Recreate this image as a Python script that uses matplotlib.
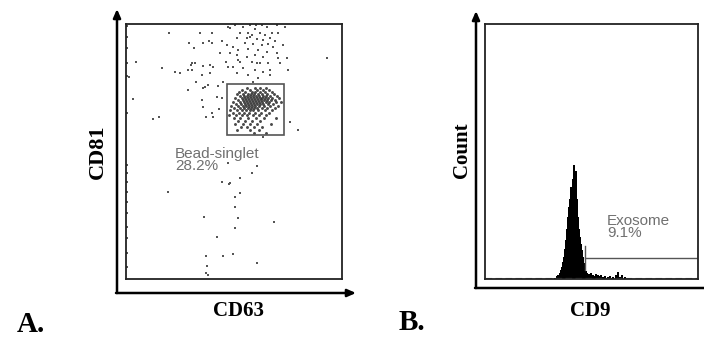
import matplotlib
matplotlib.use("Agg")
import matplotlib.pyplot as plt
from matplotlib.patches import Rectangle

# ---------------- data ----------------
# Panel A: CD63 (x) vs CD81 (y) events, channel units (x 0-216, y 0-255)
edge_y = [253, 242, 231, 216, 203, 166, 114, 106, 97, 87, 77, 66, 52, 41, 26, 12]
edge_x = [1] * len(edge_y)

scatter_x = [43, 74, 86, 102, 63, 77, 83, 86, 96, 101, 68, 94, 104, 10, 36, 49, 54, 62, 66, 65,
             69, 77, 84, 87, 100, 102, 66, 76, 84, 70, 82, 79, 77, 92, 97, 62, 91, 96, 76, 93,
             77, 86, 80, 87, 7, 3, 27, 33,
             109, 117, 124, 129, 136, 141, 151, 159, 114, 122, 126, 134, 139, 146, 152, 111, 121, 131, 137, 144,
             149, 119, 127, 136, 142, 147, 157, 107, 112, 122, 132, 141, 111, 121, 129, 137, 152, 161,
             201, 114, 126, 134, 142, 162, 107, 117, 129, 137, 111, 122, 132, 144, 127,
             124, 112, 131, 144, 151, 154, 104, 130,
             164, 172, 137,
             42, 78, 91, 80, 97, 107, 81, 80, 82, 96, 103, 109, 109, 109, 131, 126, 114, 104, 114,
             112, 148, 131, 102]
scatter_y = [246, 246, 246, 252, 236, 236, 238, 236, 238, 234, 231, 226, 226, 217, 211, 207, 206, 209, 216, 214,
             216, 213, 214, 212, 217, 212, 209, 204, 206, 197, 194, 192, 191, 193, 197, 189, 182, 181, 179, 170,
             172, 166, 162, 162, 180, 202, 160, 162,
             254, 252, 254, 250, 254, 252, 254, 252, 246, 246, 244, 246, 244, 246, 246, 241, 241, 240, 239, 241,
             238, 236, 235, 234, 235, 232, 234, 232, 229, 230, 229, 227, 224, 222, 224, 222, 221, 221,
             221, 217, 217, 216, 216, 209, 212, 211, 209, 207, 206, 204, 201, 204, 197,
             242, 219, 216, 209, 226, 216, 251, 254,
             157, 149, 142,
             87, 62, 42, 23, 23, 25, 13, 6, 4, 97, 95, 82, 72, 51, 113, 106, 101, 96, 86,
             61, 57, 16, 116]

# Bead-singlet gate population, listed row by row (CD81 level, CD63 values)
gate_rows = [
    (191, [121, 129, 134, 140]),
    (189, [116, 124, 131, 137, 143]),
    (187, [113, 119, 126, 129, 134, 139, 146]),
    (185, [111, 117, 122, 125, 128, 132, 136, 141, 148]),
    (183, [114, 118, 121, 124, 127, 130, 133, 137, 140, 144, 151]),
    (181, [109, 116, 119, 122, 125, 128, 131, 134, 136, 139, 142, 146, 153]),
    (179, [112, 117, 120, 123, 126, 129, 132, 135, 138, 141, 145, 149]),
    (177, [107, 114, 118, 121, 124, 127, 130, 133, 136, 140, 143, 150, 155]),
    (175, [110, 115, 119, 122, 125, 128, 131, 134, 137, 142, 147]),
    (173, [105, 112, 117, 120, 123, 126, 129, 133, 138, 144, 152]),
    (171, [108, 114, 118, 122, 125, 128, 131, 136, 141, 149]),
    (169, [104, 111, 116, 120, 124, 127, 132, 139, 146]),
    (166, [107, 113, 118, 123, 129, 135, 143]),
    (164, [103, 110, 116, 121, 127, 133, 140]),
    (161, [108, 114, 122, 130, 138, 150]),
    (158, [112, 119, 126, 134]),
    (155, [109, 117, 124, 131, 145]),
    (152, [115, 121, 128, 136]),
    (149, [111, 124, 133]),
    (146, [128, 140]),
]
gate_box = (101, 144, 57, 51)   # x0, y0, width, height (channels)

# Panel B: CD9 histogram (channel, count), channels 0-213
hist_x = [70, 72, 73, 75, 76, 77, 78, 79, 80, 81, 82, 83, 84, 85, 86, 87, 88, 89, 90, 91,
          92, 93, 94, 95, 96, 97, 98, 99, 100, 101, 102, 103, 104, 105, 106, 107, 108, 110, 111, 113,
          114, 116, 118, 120, 123, 125, 128, 131, 133, 135, 137, 140]
hist_y = [1, 3, 4, 6, 9, 12, 17, 22, 30, 39, 50, 62, 72, 80, 92, 88, 100, 114, 98, 108,
          80, 62, 50, 42, 35, 29, 22, 16, 11, 8, 6, 4, 5, 3, 6, 3, 4, 3, 5, 4,
          3, 4, 2, 3, 2, 3, 2, 4, 7, 2, 4, 2]
exo_gate = (100, 213, 21)   # start, end, level

# ---------------- figure ----------------
W, H = 704, 340
fig = plt.figure(figsize=(W / 100, H / 100), dpi=100)
fig.patch.set_facecolor("white")

serif = ["Liberation Serif", "DejaVu Serif"]
sans = ["Liberation Sans", "DejaVu Sans"]

def px_axes(x0, y0, x1, y1):
    return fig.add_axes([x0 / W, 1 - y1 / H, (x1 - x0) / W, (y1 - y0) / H])

def style(ax):
    ax.set_xticks([]); ax.set_yticks([])
    for s in ax.spines.values():
        s.set_linewidth(1.3)
        s.set_color("#222222")

# Panel A
axA = px_axes(126, 24, 342, 279)
style(axA)
axA.set_xlim(0, 216); axA.set_ylim(0, 255)
axA.scatter(edge_x, edge_y, s=1.6, marker="s", color="#555555", linewidths=0)
axA.scatter(scatter_x, scatter_y, s=2.0, marker="s", color="#555555", linewidths=0)
gx = [x for y, xs in gate_rows for x in xs]
gy = [y for y, xs in gate_rows for x in xs]
axA.scatter(gx, gy, s=4.5, marker="o", color="#2a2a2a", linewidths=0, alpha=0.85)
axA.add_patch(Rectangle(gate_box[:2], gate_box[2], gate_box[3], fill=False,
                        edgecolor="#555555", linewidth=1.2))
axA.text(49, 119, "Bead-singlet\n28.2%", family=sans, fontsize=11, color="#707070",
         va="center", ha="left", linespacing=0.85)

# Panel B
axB = px_axes(485, 24, 698, 279)
style(axB)
axB.set_xlim(0, 213); axB.set_ylim(0, 255)
axB.bar(hist_x, hist_y, width=1.15, color="black", linewidth=0, align="center")
axB.plot([0, 213], [1.5, 1.5], color="#777777", linewidth=0.8, linestyle=(0, (6, 3)))
s0, s1, lv = exo_gate
axB.plot([s0, s1], [lv, lv], color="#555555", linewidth=1.0)
axB.plot([s0, s0], [lv - 12, lv + 12], color="#555555", linewidth=1.0)
axB.plot([s1, s1], [lv - 12, lv + 12], color="#555555", linewidth=1.0)
axB.text(122, 52, "Exosome\n9.1%", family=sans, fontsize=11, color="#707070",
         va="center", linespacing=0.85)

# arrows (figure pixel coordinates, origin bottom-left)
def arrow(x0, y0, x1, y1, head=True):
    fig.add_artist(matplotlib.patches.FancyArrowPatch(
        (x0, H - y0), (x1, H - y1), transform=None,
        arrowstyle="-|>,head_length=5,head_width=2.2" if head else "-",
        color="black", linewidth=1.8, shrinkA=0, shrinkB=0))

arrow(117, 293, 117, 9)
arrow(116, 293, 356, 293)
arrow(476, 288, 476, 11)
arrow(475, 288, 706, 288, head=False)

# labels
fig.text(238 / W, 1 - 311 / H, "CD63", family=serif, weight="bold", fontsize=15,
         ha="center", va="center")
fig.text(98 / W, 1 - 152 / H, "CD81", family=serif, weight="bold", fontsize=16,
         ha="center", va="center", rotation=90)
fig.text(590 / W, 1 - 311 / H, "CD9", family=serif, weight="bold", fontsize=15,
         ha="center", va="center")
fig.text(462 / W, 1 - 150 / H, "Count", family=serif, weight="bold", fontsize=15,
         ha="center", va="center", rotation=90)
fig.text(31 / W, 1 - 324 / H, "A.", family=serif, weight="bold", fontsize=21,
         ha="center", va="center")
fig.text(412 / W, 1 - 322 / H, "B.", family=serif, weight="bold", fontsize=21,
         ha="center", va="center")

fig.savefig("out.png", dpi=100, facecolor="white")
